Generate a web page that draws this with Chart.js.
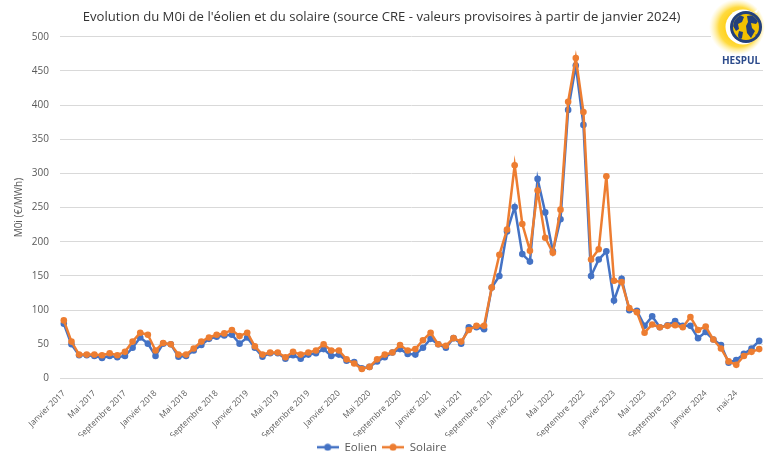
<!DOCTYPE html>
<html>
<head>
<meta charset="utf-8">
<script src="https://cdn.jsdelivr.net/npm/chart.js@4.4.1/dist/chart.umd.min.js"></script>
<style>
  html, body { margin: 0; padding: 0; background: #fff; }
</style>
</head>
<body>
<canvas id="chart" width="780" height="463"></canvas>
<script>
// Mois affichés sur l'axe (un libellé sur quatre est visible)
const moisNoms = ["Janvier", "Février", "Mars", "Avril", "Mai", "Juin", "Juillet", "Août", "Septembre", "Octobre", "Novembre", "Décembre"];
const annees = [2017, 2018, 2019, 2020, 2021, 2022, 2023];
const mois2024 = ["Janvier 2024", "févr.-24", "mars-24", "avr.-24", "mai-24", "juin-24", "juil.-24", "août-24"];

const mois = [];
annees.forEach(a => moisNoms.forEach(m => mois.push(m + " " + a)));
mois2024.forEach(m => mois.push(m));

// M0i (€/MWh), janvier 2017 -> août 2024
const eolien = [
  80, 50, 34, 34, 33, 30, 33, 31, 33, 45, 60, 51,
  33, 51, 50, 32, 33, 41, 49, 58, 61, 63, 64, 51,
  60, 45, 32, 37, 37, 29, 34, 29, 35, 37, 43, 33,
  35, 26, 24, 15, 17, 25, 31, 38, 43, 36, 35, 45,
  58, 50, 45, 59, 51, 75, 75, 72, 133, 150, 215, 251,
  182, 171, 292, 243, 186, 233, 393, 458, 371, 150, 174, 186,
  114, 146, 100, 99, 77, 91, 75, 78, 84, 77, 77, 59,
  68, 57, 49, 23, 27, 36, 44, 55
];
const solaire = [
  85, 54, 35, 35, 35, 34, 37, 34, 39, 54, 67, 64,
  41, 52, 50, 35, 35, 44, 54, 60, 64, 66, 71, 62,
  67, 47, 35, 38, 38, 31, 39, 35, 38, 41, 50, 41,
  41, 28, 22, 14, 17, 28, 35, 38, 49, 41, 43, 56,
  67, 50, 48, 59, 54, 71, 77, 77, 133, 181, 218, 312,
  226, 187, 275, 206, 184, 247, 405, 469, 390, 174, 189, 296,
  143, 141, 103, 97, 67, 79, 75, 77, 78, 75, 90, 71,
  76, 57, 44, 25, 20, 33, 39, 43
];

const bleu = "#4472C4";
const orange = "#ED7D31";
const police = '"Open Sans", "Noto Sans", sans-serif';
const titre = "Evolution du M0i de l'éolien et du solaire (source CRE - valeurs provisoires à partir de janvier 2024)";

// taille du titre ajustée à la largeur voulue
const mctx = document.createElement("canvas").getContext("2d");
mctx.font = "14px " + police;
const tailleTitre = 14 * 598 / mctx.measureText(titre).width;

function marqueur(couleur) {
  const c = document.createElement("canvas");
  c.width = 22; c.height = 8;
  const g = c.getContext("2d");
  g.strokeStyle = couleur; g.lineWidth = 2.5;
  g.beginPath(); g.moveTo(0, 4); g.lineTo(22, 4); g.stroke();
  g.fillStyle = couleur;
  g.beginPath(); g.arc(11, 4, 3.5, 0, 2 * Math.PI); g.fill();
  return c;
}

function forme(c, pts) {
  c.beginPath();
  c.moveTo(pts[0][0], pts[0][1]);
  for (let i = 1; i < pts.length; i++) c.lineTo(pts[i][0], pts[i][1]);
  c.closePath();
  c.fill();
}

const logoPlugin = {
  id: "logo",
  afterDraw(chart) {
    const c = chart.ctx;
    c.save();
    c.fillStyle = "#fff";
    c.fillRect(711, 0, 54, 66);
    // halo jaune à gauche
    const g = c.createRadialGradient(741, 27, 10, 737, 27, 28);
    g.addColorStop(0, "rgba(255,200,0,1)");
    g.addColorStop(0.55, "rgba(255,212,30,0.85)");
    g.addColorStop(1, "rgba(255,235,140,0)");
    c.fillStyle = g;
    c.beginPath(); c.arc(737, 27, 28, 0, 2 * Math.PI); c.fill();
    c.fillStyle = "#fff";
    c.beginPath(); c.arc(743, 27, 17.5, 0, 2 * Math.PI); c.fill();
    // globe
    c.fillStyle = "#23407C";
    c.beginPath(); c.arc(746, 27, 16, 0, 2 * Math.PI); c.fill();
    c.fillStyle = "#F2C200";
    c.beginPath(); c.arc(746, 27, 13, 0, 2 * Math.PI); c.fill();
    c.save();
    c.beginPath(); c.arc(746, 27, 13, 0, 2 * Math.PI); c.clip();
    c.fillStyle = "#23407C";
    forme(c, [[734, 18], [740, 15], [744, 17], [742, 22], [738, 24], [739, 29], [736, 31], [733, 26]]);
    forme(c, [[739, 31], [743, 32], [742, 38], [739, 41], [738, 35]]);
    forme(c, [[747, 16], [754, 15], [759, 20], [756, 24], [751, 23], [752, 28], [755, 31], [751, 38], [747, 33], [746, 26], [748, 22]]);
    forme(c, [[755, 35], [759, 33], [758, 37]]);
    c.restore();
    c.fillStyle = "#fff";
    c.beginPath(); c.moveTo(754, 12); c.lineTo(759, 8); c.lineTo(757, 13); c.closePath(); c.fill();
    c.fillStyle = "#2B4A8B";
    c.font = "bold 10px " + police;
    c.textAlign = "center";
    c.textBaseline = "middle";
    c.fillText("HESPUL", 741, 61);
    c.restore();
  }
};

new Chart(document.getElementById("chart"), {
  type: "line",
  data: {
    labels: mois,
    datasets: [
      { label: "Eolien", data: eolien, borderColor: bleu, backgroundColor: bleu,
        borderWidth: 2.5, pointRadius: 3.3, pointBorderWidth: 0, pointBackgroundColor: bleu, order: 1 },
      { label: "Solaire", data: solaire, borderColor: orange, backgroundColor: orange,
        borderWidth: 2.5, pointRadius: 3.3, pointBorderWidth: 0, pointBackgroundColor: orange, order: 0 }
    ]
  },
  options: {
    responsive: false,
    animation: false,
    layout: { padding: { left: 0, right: 17, top: 0, bottom: 0 } },
    plugins: {
      title: {
        display: true,
        text: titre,
        color: "#333",
        font: { family: police, size: tailleTitre, weight: "normal" },
        padding: { top: 9, bottom: 12 }
      },
      legend: {
        position: "bottom",
        labels: {
          usePointStyle: true,
          pointStyleWidth: 22,
          color: "#595959",
          font: { family: police, size: 11.5 },
          padding: 5,
          generateLabels: () => [
            { text: "Eolien", pointStyle: marqueur(bleu), fillStyle: bleu, strokeStyle: bleu, lineWidth: 0, hidden: false, datasetIndex: 0, fontColor: "#595959" },
            { text: "Solaire", pointStyle: marqueur(orange), fillStyle: orange, strokeStyle: orange, lineWidth: 0, hidden: false, datasetIndex: 1, fontColor: "#595959" }
          ]
        }
      },
      tooltip: { enabled: false }
    },
    scales: {
      x: {
        offset: true,
        grid: { display: false },
        border: { display: false },
        ticks: {
          autoSkip: false,
          minRotation: 45,
          maxRotation: 45,
          padding: 2,
          color: "#595959",
          font: { family: police, size: 8.3 },
          callback(v, i) { return i % 4 === 0 ? this.getLabelForValue(v) : ""; }
        },
        afterFit(s) { s.height = 58; }
      },
      y: {
        min: 0,
        max: 500,
        ticks: { stepSize: 50, padding: 11, color: "#595959", font: { family: police, size: 10 } },
        grid: { color: "#d9d9d9", drawTicks: false, lineWidth: 1 },
        border: { display: false },
        title: { display: true, text: "M0i (€/MWh)", color: "#595959", font: { family: police, size: 10 }, padding: { top: 13, bottom: 0 } },
        afterFit(s) { s.width = 60; }
      }
    }
  },
  plugins: [logoPlugin]
});
</script>
</body>
</html>
